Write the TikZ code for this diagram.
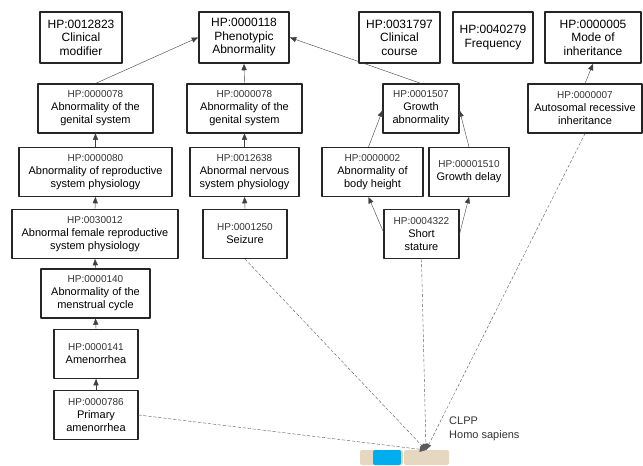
\documentclass[tikz,border=0pt]{standalone}
\usepackage{fontspec}
\setmainfont{Liberation Sans}
\usetikzlibrary{arrows}

\definecolor{bandbeige}{HTML}{E6D8C0}
\definecolor{bandblue}{HTML}{00AEEF}

\tikzset{
  term/.style={draw=black!85,line width=1.1pt,align=center,inner sep=1pt,minimum height=49pt,
    font=\fontsize{11}{13}\selectfont},
  rootterm/.style={term,line width=2pt,minimum height=51pt,font=\fontsize{12}{13.5}\selectfont},
  isa/.style={->,line width=0.4pt,draw=black!75},
  hit/.style={->,line width=0.4pt,draw=black!65,dash pattern=on 3pt off 2pt},
}
\newcommand{\hpid}[1]{{\fontsize{10}{13}\selectfont\color{black!80}#1}}

\begin{document}
\begin{tikzpicture}[line cap=round,line join=round,>=triangle 45,x=1pt,y=-1pt]
\useasboundingbox (0,0) rectangle (643,466);
% top level
\node[rootterm,minimum width=82pt] (cmod) at (81,37.5) {HP:0012823\\Clinical\\modifier};
\node[rootterm,minimum width=90pt] (pheno) at (244,37.5) {HP:0000118\\Phenotypic\\Abnormality};
\node[rootterm,minimum width=81pt] (course) at (399.5,37.5) {HP:0031797\\Clinical\\course};
\node[rootterm,minimum width=80pt] (freq) at (493,37.5) {HP:0040279\\Frequency};
\node[rootterm,minimum width=96pt] (moi) at (593,37.5) {HP:0000005\\Mode of\\inheritance};
% second row
\node[term,minimum width=115pt] (genA) at (95.5,108.5) {\hpid{HP:0000078}\\Abnormality of the\\genital system};
\node[term,minimum width=115pt] (genB) at (244.5,108.5) {\hpid{HP:0000078}\\Abnormality of the\\genital system};
\node[term,minimum width=76pt] (growth) at (421,108.5) {\hpid{HP:0001507}\\Growth\\abnormality};
\node[term,minimum width=114pt] (autrec) at (585,108.5) {\hpid{HP:0000007}\\Autosomal recessive\\inheritance};
% third row
\node[term,minimum width=153pt] (reprod) at (95.5,172) {\hpid{HP:0000080}\\Abnormality of reproductive\\system physiology};
\node[term,minimum width=109pt] (nerv) at (244.5,172) {\hpid{HP:0012638}\\Abnormal nervous\\system physiology};
\node[term,minimum width=101pt] (height) at (372.5,172) {\hpid{HP:0000002}\\Abnormality of\\body height};
\node[term,minimum width=80pt] (delay) at (469,172) {\hpid{HP:00001510}\\Growth delay};
% fourth row
\node[term,minimum width=166pt] (female) at (95,234) {\hpid{HP:0030012}\\Abnormal female reproductive\\system physiology};
\node[term,minimum width=84pt] (seizure) at (245,234) {\hpid{HP:0001250}\\Seizure};
\node[term,minimum width=75pt] (short) at (421.5,234) {\hpid{HP:0004322}\\Short\\stature};
% lower left chain
\node[term,minimum width=109pt] (menst) at (95.5,293.5) {\hpid{HP:0000140}\\Abnormality of the\\menstrual cycle};
\node[term,minimum width=84pt] (amen) at (96,354) {\hpid{HP:0000141}\\Amenorrhea};
\node[term,minimum width=84pt] (primam) at (96,415) {\hpid{HP:0000786}\\Primary\\amenorrhea};

% is-a edges
\draw[isa] (genA.north) -- (pheno.west);
\draw[isa] (genB.north) -- (pheno.south);
\draw[isa] (growth.north) -- (pheno.east);
\draw[isa] (autrec.north) -- (moi.south);
\draw[isa] (reprod.north) -- (genA.south);
\draw[isa] (nerv.north) -- (genB.south);
\draw[isa] ([xshift=-4pt]height.north) -- ([yshift=-2pt]growth.west);
\draw[isa] (delay.north) -- ([yshift=-2pt]growth.east);
\draw[isa] (female.north) -- (reprod.south);
\draw[isa] (seizure.north) -- (nerv.south);
\draw[isa] ([yshift=2pt]short.west) -- ([xshift=-4pt]height.south);
\draw[isa] (short.east) -- (delay.south);
\draw[isa] (menst.north) -- (female.south);
\draw[isa] (amen.north) -- (menst.south);
\draw[isa] (primam.north) -- (amen.south);

% gene band
\fill[bandbeige,rounded corners=2pt] (360,450) rectangle (403,465);
\fill[bandbeige,rounded corners=2pt] (404,450) rectangle (449,465);
\fill[bandblue,rounded corners=2pt] (373,450) rectangle (401,465);
\coordinate (clpp) at (426,450);
\node[anchor=north west,align=left,inner sep=0pt,text=black!80,font=\fontsize{11}{14}\selectfont] (gene) at (449,417) {CLPP\\Homo sapiens};

% annotation edges
\draw[hit] (primam.east) -- (clpp);
\draw[hit] (seizure.south) -- (clpp);
\draw[hit] (short.south) -- (clpp);
\draw[hit] (autrec.south) -- (clpp);
\end{tikzpicture}
\end{document}
